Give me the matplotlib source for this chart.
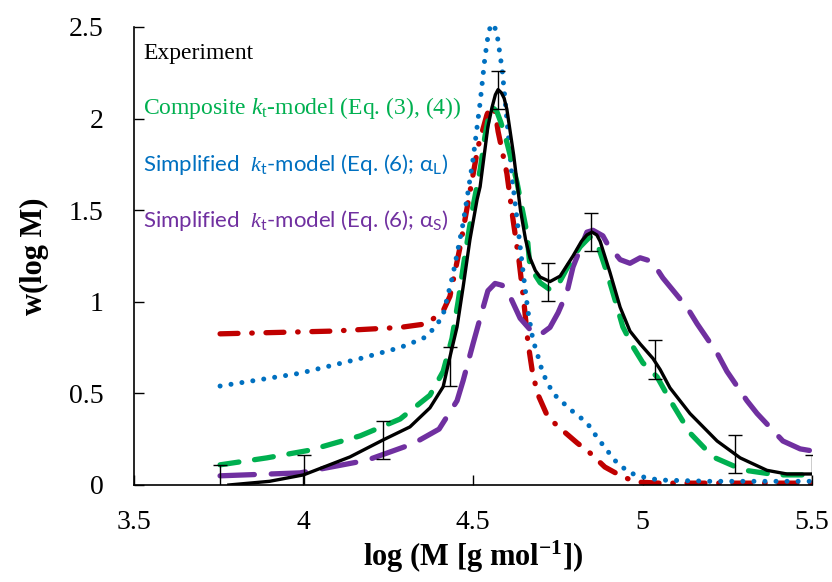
import matplotlib
matplotlib.use('Agg')
import matplotlib.pyplot as plt

plt.rcParams['font.family'] = ['Liberation Serif', 'DejaVu Serif']
plt.rcParams['mathtext.fontset'] = 'custom'
plt.rcParams['mathtext.rm'] = 'Liberation Serif'
plt.rcParams['mathtext.it'] = 'Liberation Serif:italic'
plt.rcParams['mathtext.bf'] = 'Liberation Serif:bold'
plt.rcParams['mathtext.sf'] = 'Lato'

# experiment (smoothed GPC trace) and its error bars
exp_x = [3.78, 3.90, 4.00, 4.137, 4.235, 4.314, 4.373, 4.412, 4.432, 4.453, 4.471, 4.491,
         4.512, 4.521, 4.544, 4.556, 4.566, 4.574, 4.584, 4.592, 4.600, 4.620, 4.640, 4.655,
         4.668, 4.684, 4.698, 4.727, 4.757, 4.795, 4.820, 4.836, 4.851, 4.865, 4.875, 4.904,
         4.934, 4.963, 4.993, 5.031, 5.052, 5.081, 5.140, 5.220, 5.288, 5.367, 5.426, 5.50]
exp_y = [0.0, 0.02, 0.055, 0.153, 0.246, 0.317, 0.421, 0.536, 0.699, 0.863, 1.082, 1.339,
         1.557, 1.628, 1.956, 2.06, 2.13, 2.158, 2.14, 2.11, 2.05, 1.80, 1.50, 1.34,
         1.24, 1.17, 1.135, 1.11, 1.14, 1.25, 1.33, 1.365, 1.38, 1.365, 1.33, 1.16,
         0.97, 0.84, 0.77, 0.69, 0.63, 0.53, 0.39, 0.24, 0.148, 0.08, 0.06, 0.06]

err_x = [3.754, 4.001, 4.235, 4.432, 4.574, 4.721, 4.848, 5.037, 5.273, 5.50]
err_y = [0.005, 0.06, 0.246, 0.647, 2.156, 1.109, 1.38, 0.686, 0.17, 0.06]
err_h = 0.105

# composite kt-model
comp_x = [3.754, 3.892, 4.019, 4.167, 4.285, 4.373, 4.412, 4.438, 4.456, 4.476, 4.497, 4.521,
          4.535, 4.547, 4.558, 4.570, 4.582, 4.600, 4.630, 4.659, 4.668, 4.698, 4.727, 4.748,
          4.786, 4.816, 4.845, 4.866, 4.895, 4.919, 4.942, 4.972, 5.001, 5.043, 5.081, 5.140,
          5.208, 5.296, 5.397, 5.50]
comp_y = [0.11, 0.148, 0.19, 0.268, 0.36, 0.49, 0.62, 0.80, 1.0, 1.25, 1.49, 1.72,
          1.90, 2.02, 2.06, 2.04, 1.98, 1.87, 1.65, 1.377, 1.19, 1.104, 1.066, 1.082,
          1.213, 1.30, 1.355, 1.32, 1.16, 1.01, 0.863, 0.754, 0.667, 0.59, 0.464, 0.284,
          0.153, 0.082, 0.055, 0.055]

# simplified kt-model, alpha_L
simL_x = [3.754, 3.990, 4.167, 4.285, 4.353, 4.373, 4.403, 4.412, 4.441, 4.470, 4.482, 4.500,
          4.521, 4.535, 4.545, 4.553, 4.562, 4.571, 4.586, 4.600, 4.615, 4.630, 4.648, 4.662,
          4.677, 4.689, 4.706, 4.736, 4.765, 4.795, 4.836, 4.866, 4.895, 4.925, 4.963, 5.013,
          5.052, 5.20, 5.50]
simL_y = [0.54, 0.61, 0.69, 0.75, 0.80, 0.83, 0.90, 0.93, 1.15, 1.42, 1.56, 1.776,
          2.087, 2.33, 2.46, 2.514, 2.51, 2.46, 2.268, 1.995, 1.683, 1.448, 1.158, 0.95,
          0.79, 0.72, 0.61, 0.50, 0.45, 0.40, 0.34, 0.26, 0.19, 0.12, 0.066, 0.038,
          0.027, 0.02, 0.02]

# simplified kt-model, alpha_S
simS_x = [3.754, 3.990, 4.187, 4.323, 4.400, 4.453, 4.471, 4.500, 4.527, 4.544, 4.565, 4.586,
          4.609, 4.639, 4.677, 4.698, 4.727, 4.751, 4.777, 4.795, 4.836, 4.854, 4.883, 4.895,
          4.934, 4.963, 4.993, 5.028, 5.060, 5.131, 5.161, 5.220, 5.249, 5.308, 5.338, 5.414,
          5.465, 5.50]
simS_y = [0.05, 0.066, 0.135, 0.225, 0.305, 0.46, 0.57, 0.77, 0.95, 1.06, 1.10, 1.09,
          1.03, 0.91, 0.83, 0.82, 0.86, 0.94, 1.05, 1.19, 1.38, 1.39, 1.36, 1.32,
          1.23, 1.21, 1.24, 1.22, 1.13, 0.97, 0.88, 0.72, 0.62, 0.46, 0.39, 0.24,
          0.197, 0.186]

# red dash-dot curve
red_x = [3.754, 4.087, 4.285, 4.364, 4.412, 4.432, 4.462, 4.491, 4.515, 4.541, 4.550, 4.558,
         4.566, 4.574, 4.600, 4.618, 4.636, 4.650, 4.662, 4.675, 4.690, 4.721, 4.763, 4.807,
         4.845, 4.889, 4.942, 4.984, 5.05, 5.50]
red_y = [0.825, 0.84, 0.86, 0.88, 0.95, 1.03, 1.30, 1.60, 1.847, 2.02, 2.06, 2.066,
         2.03, 1.93, 1.70, 1.45, 1.22, 1.00, 0.78, 0.62, 0.50, 0.37, 0.30, 0.23,
         0.175, 0.098, 0.044, 0.016, 0.01, 0.01]

xticks = [3.5, 4, 4.5, 5, 5.5]
yticks = [0, 0.5, 1, 1.5, 2, 2.5]

green = '#00B050'
blue = '#0070C0'
purple = '#7030A0'
red = '#C00000'

fig = plt.figure(figsize=(8.32, 5.82), dpi=100)
ax = fig.add_axes([0.161, 0.1667, 0.815, 0.787])

ax.plot(red_x, red_y, color=red, lw=3.8, dashes=(3.4, 2.6, 0.1, 2.6),
        dash_capstyle='round')
ax.plot(simL_x, simL_y, color=blue, lw=3.6, dashes=(0.01, 2.2),
        dash_capstyle='round', clip_on=False)
ax.plot(simS_x, simS_y, color=purple, lw=3.8, dashes=(6.5, 3.2),
        dash_capstyle='round')
ax.plot(comp_x, comp_y, color=green, lw=3.8, dashes=(3.6, 3.0),
        dash_capstyle='round')
ax.plot(exp_x, exp_y, color='black', lw=2.4)
ax.errorbar(err_x, err_y, yerr=err_h, fmt='none', ecolor='black',
            elinewidth=1.0, capsize=5, capthick=1.0)

ax.set_xlim(3.5, 5.5)
ax.set_ylim(0, 2.5)
ax.set_xticks(xticks)
ax.set_xticklabels(['3.5', '4', '4.5', '5', '5.5'])
ax.set_yticks(yticks)
ax.set_yticklabels(['0', '0.5', '1', '1.5', '2', '2.5'])
ax.tick_params(direction='in', length=7, width=1, labelsize=20)
ax.tick_params(axis='y', pad=22)
ax.tick_params(axis='x', pad=18)
for s in ['top', 'right']:
    ax.spines[s].set_visible(False)
for s in ['left', 'bottom']:
    ax.spines[s].set_linewidth(1.2)

ax.set_xlabel('log (M [g mol$^{\\mathbf{-1}}$])', fontsize=22, fontweight='bold',
              labelpad=3)
ax.set_ylabel('w(log M)', fontsize=22, fontweight='bold', labelpad=14)

# legend written as coloured text
def px(x, y):
    return x / 832, 1 - y / 582

fig.text(*px(143, 59), 'Experiment', fontsize=17, color='black')
fig.text(*px(143, 114), 'Composite $\\mathit{k}_{\\mathrm{t}}$-model (Eq. (3), (4))',
         fontsize=17, color=green)
fig.text(*px(143, 171), 'Simplified  $\\mathit{k}_{\\mathsf{t}}$-model (Eq. (6); α$_{\\mathsf{L}}$)',
         fontsize=16, color=blue, family=['Lato', 'DejaVu Sans'])
fig.text(*px(143, 227), 'Simplified  $\\mathit{k}_{\\mathsf{t}}$-model (Eq. (6); α$_{\\mathsf{S}}$)',
         fontsize=16, color=purple, family=['Lato', 'DejaVu Sans'])

fig.savefig('out.png', dpi=100)
